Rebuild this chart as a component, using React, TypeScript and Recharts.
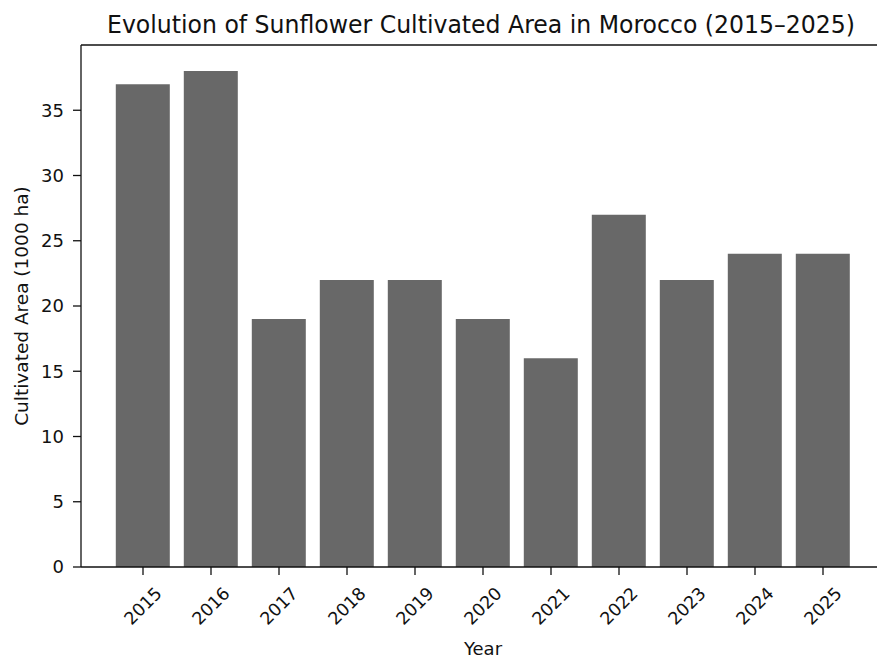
import { BarChart, Bar, XAxis, YAxis, ReferenceLine } from 'recharts'

const years = ['2015', '2016', '2017', '2018', '2019', '2020', '2021', '2022', '2023', '2024', '2025']
const area = [37, 38, 19, 22, 22, 19, 16, 27, 22, 24, 24]
const yTicks = [0, 5, 10, 15, 20, 25, 30, 35]

const data = years.map((year, i) => ({ year, area: area[i] }))

const FONT = '"DejaVu Sans", sans-serif'
const INK = '#111'

function YearTick(props: any) {
  const { x, y, payload } = props
  const cy = y + 29
  return (
    <text
      x={x}
      y={cy}
      textAnchor="middle"
      dominantBaseline="central"
      transform={`rotate(-45, ${x}, ${cy})`}
      fontFamily={FONT}
      fontSize={17.5}
      fill={INK}
    >
      {payload.value}
    </text>
  )
}

function YLabel(props: any) {
  const { viewBox } = props
  const cx = 21
  const cy = viewBox.y + viewBox.height / 2
  return (
    <text
      x={cx}
      y={cy}
      textAnchor="middle"
      dominantBaseline="central"
      transform={`rotate(-90, ${cx}, ${cy})`}
      fontFamily={FONT}
      fontSize={18.5}
      fill={INK}
    >
      Cultivated Area (1000 ha)
    </text>
  )
}

function XLabel(props: any) {
  const { viewBox } = props
  return (
    <text
      x={viewBox.x + viewBox.width / 2}
      y={655}
      textAnchor="middle"
      fontFamily={FONT}
      fontSize={18}
      fill={INK}
    >
      Year
    </text>
  )
}

export default function App() {
  return (
    <div
      style={{
        position: 'absolute',
        left: 0,
        top: 0,
        width: 877,
        height: 658,
        overflow: 'hidden',
        background: '#fff',
      }}
    >
      <svg width={877} height={45} style={{ position: 'absolute', left: 0, top: 0 }}>
        <text
          x={481}
          y={33}
          textAnchor="middle"
          fontFamily='"DejaVu Sans Condensed", "DejaVu Sans", sans-serif'
          fontStretch="condensed"
          fontSize={24}
          fill={INK}
          textLength={748}
          lengthAdjust="spacingAndGlyphs"
        >
          Evolution of Sunflower Cultivated Area in Morocco (2015–2025)
        </text>
      </svg>
      <BarChart
        width={885}
        height={658}
        data={data}
        margin={{ top: 45, right: 0, bottom: 0, left: 0 }}
        barCategoryGap="10%"
      >
        <XAxis
          dataKey="year"
          height={91}
          padding={{ left: 28, right: 28 }}
          tick={<YearTick />}
          tickSize={8}
          axisLine={{ stroke: INK, strokeWidth: 1.3 }}
          tickLine={{ stroke: INK, strokeWidth: 1.3 }}
          interval={0}
          label={<XLabel />}
        />
        <YAxis
          width={81}
          domain={[0, 40]}
          ticks={yTicks}
          tickSize={8}
          tickMargin={9}
          allowDataOverflow
          axisLine={{ stroke: INK, strokeWidth: 1.3 }}
          tickLine={{ stroke: INK, strokeWidth: 1.3 }}
          tick={{ fontFamily: FONT, fontSize: 18, fill: INK }}
          label={<YLabel />}
        />
        <ReferenceLine y={40} stroke={INK} strokeWidth={1.3} />
        <Bar dataKey="area" fill="#686868" isAnimationActive={false} />
      </BarChart>
    </div>
  )
}
